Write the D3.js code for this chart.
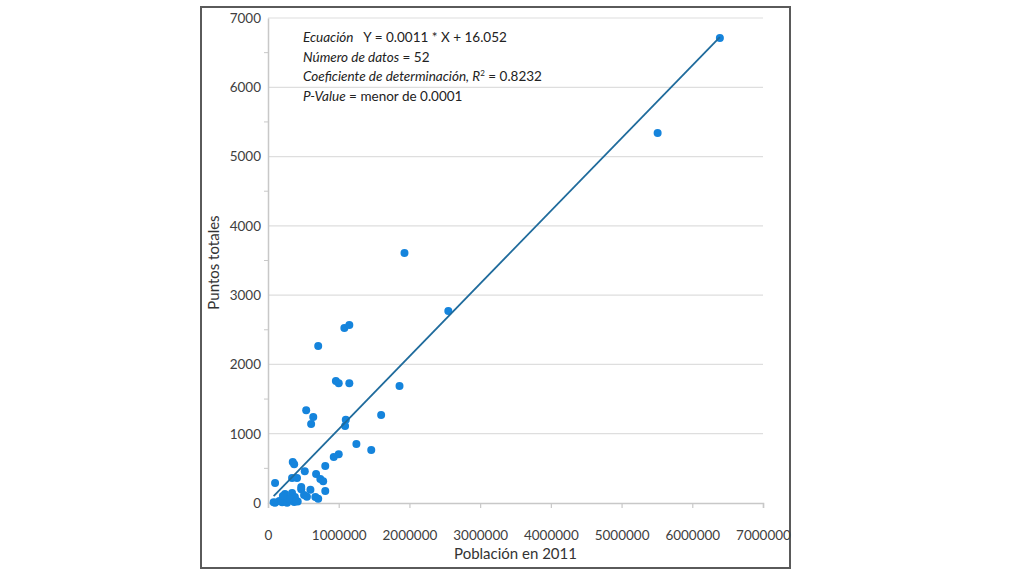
<!DOCTYPE html>
<html>
<head>
<meta charset="utf-8">
<script src="https://cdn.jsdelivr.net/npm/d3@7"></script>
<style>
  body { margin: 0; background: #fff; }
  svg text { font-family: Lato, "Open Sans", sans-serif; }
</style>
</head>
<body>
<svg id="chart" width="1024" height="576"></svg>
<script>
// ***************** DATA ********************
var poblacion = [6390000, 5510000, 1930000, 2550000, 1080000, 1150000, 710000, 960000, 1000000, 1150000,
	1860000, 540000, 640000, 610000, 1100000, 1090000, 1600000, 1250000, 1460000, 1000000,
	930000, 350000, 370000, 810000, 520000, 340000, 410000, 680000, 740000, 780000,
	100000, 470000, 810000, 240000, 340000, 380000, 510000, 550000, 670000, 710000,
	100000, 200000, 270000, 370000, 420000, 300000, 160000, 470000, 210000, 600000,
	400000, 80000];
var puntos = [6710, 5340, 3610, 2770, 2525, 2570, 2265, 1760, 1730, 1730,
	1690, 1340, 1240, 1140, 1200, 1110, 1270, 850, 765, 705,
	665, 590, 560, 535, 460, 360, 360, 420, 345, 315,
	290, 200, 175, 130, 145, 85, 115, 90, 85, 60,
	5, 10, 5, 15, 20, 60, 30, 230, 100, 190,
	30, 10];
var xTicks = [0, 1000000, 2000000, 3000000, 4000000, 5000000, 6000000, 7000000];
var yTicks = [0, 1000, 2000, 3000, 4000, 5000, 6000, 7000];
var yMinor = [500, 1500, 2500, 3500, 4500, 5500, 6500];
// linea de ajuste, tal como se dibuja
var fitSlope = 0.00105, fitIntercept = 16.052;
var notes = [
	[{t:"Ecuación", i:true}, {t:"\u00a0\u00a0 Y = 0.0011 * X + 16.052"}],
	[{t:"Número de datos", i:true}, {t:" = 52"}],
	[{t:"Coeficiente de determinación, R", i:true}, {t:"2", sup:true}, {t:" = 0.8232"}],
	[{t:"P-Value", i:true}, {t:" = menor de 0.0001"}]
];

var svg = d3.select("#chart");
var margin = {left: 268, right: 763, top: 18, bottom: 503};

var x = d3.scaleLinear().domain([0, 7000000]).range([margin.left, margin.right]);
var y = d3.scaleLinear().domain([0, 7000]).range([margin.bottom, margin.top]);

// ***************** FRAME ********************
svg.append("rect")
	.attr("x", 201).attr("y", 7)
	.attr("width", 589).attr("height", 561)
	.attr("fill", "#fff")
	.attr("stroke", "#5a5a5a")
	.attr("stroke-width", 2)

// ***************** GRID ********************
svg.selectAll(".grid")
	.data(yTicks.slice(1))
	.enter()
	.append("line")
	.classed("grid", true)
	.attr("x1", x(0)).attr("x2", x(7000000))
	.attr("y1", function(d) { return y(d) })
	.attr("y2", function(d) { return y(d) })
	.attr("stroke", "#dedede")
	.attr("stroke-width", 1.2)

// ***************** AXES ********************
var xAxis = d3.axisBottom(x).tickValues(xTicks).tickSize(5).tickPadding(22).tickFormat(d3.format("d"));
var gx = svg.append("g").attr("transform", "translate(0," + y(0) + ")").call(xAxis);
gx.select(".domain").attr("stroke", "#c8c8c8").attr("stroke-width", 1.5);
gx.selectAll(".tick line").attr("stroke", "#c8c8c8").attr("stroke-width", 1.2);
gx.selectAll(".tick text").attr("fill", "#404040").style("font-size", "13.5px");

var yAxis = d3.axisLeft(y).tickValues(yTicks).tickSize(0).tickPadding(7).tickFormat(d3.format("d"));
var gy = svg.append("g").attr("transform", "translate(" + x(0) + ",0)").call(yAxis);
gy.select(".domain").attr("stroke", "#c8c8c8").attr("stroke-width", 1.5);
gy.selectAll(".tick text").attr("fill", "#404040").style("font-size", "13.5px");

svg.selectAll(".minor")
	.data(yMinor)
	.enter()
	.append("line")
	.classed("minor", true)
	.attr("x1", x(0) - 4).attr("x2", x(0))
	.attr("y1", function(d) { return y(d) })
	.attr("y2", function(d) { return y(d) })
	.attr("stroke", "#c8c8c8")

svg.append("text")
	.attr("x", (x(0) + x(7000000)) / 2)
	.attr("y", 559)
	.attr("text-anchor", "middle")
	.attr("fill", "#333")
	.style("font-size", "15px")
	.text("Población en 2011")

svg.append("text")
	.attr("transform", "translate(219," + (y(3500) + 2) + ") rotate(-90)")
	.attr("text-anchor", "middle")
	.attr("fill", "#333")
	.style("font-size", "15px")
	.text("Puntos totales")

// ***************** POINTS ********************
var pts = poblacion.map(function(p, i) { return {x: p, y: puntos[i]} });

svg.selectAll(".dot")
	.data(pts)
	.enter()
	.append("circle")
	.classed("dot", true)
	.attr("cx", function(d) { return x(d.x) })
	.attr("cy", function(d) { return y(d.y) })
	.attr("r", 4)
	.attr("fill", "#1584dc")

// ***************** FIT LINE ********************
var xs = d3.extent(poblacion);
svg.append("line")
	.attr("x1", x(xs[0])).attr("y1", y(fitSlope * xs[0] + fitIntercept))
	.attr("x2", x(xs[1])).attr("y2", y(fitSlope * xs[1] + fitIntercept))
	.attr("stroke", "#1f6b9c")
	.attr("stroke-width", 1.8)

// ***************** NOTES ********************
var noteY = [42, 62, 81, 101];
notes.forEach(function(parts, i) {
	var t = svg.append("text")
		.attr("x", 303)
		.attr("y", noteY[i])
		.attr("fill", "#222")
		.style("font-size", "13.5px")
	parts.forEach(function(p) {
		var s = t.append("tspan").text(p.t)
		if (p.i) s.style("font-style", "italic")
		if (p.sup) s.attr("dy", "-5").style("font-size", "8px")
		else if (parts.some(function(q) { return q.sup }) && p.t.indexOf("=") >= 0) s.attr("dy", "5")
	})
});
</script>
</body>
</html>
